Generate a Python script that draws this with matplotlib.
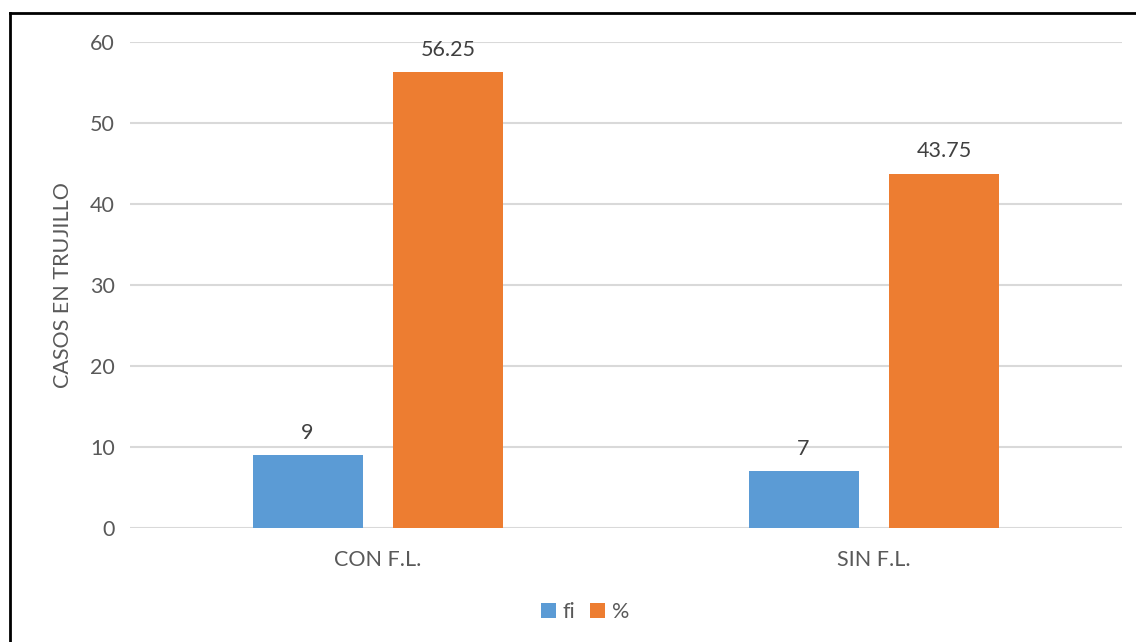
import matplotlib.pyplot as plt
from matplotlib.lines import Line2D
import numpy as np

categories = ["CON F.L.", "SIN F.L."]
fi = [9, 7]
pct = [56.25, 43.75]
labels_fi = ["9", "7"]
labels_pct = ["56.25", "43.75"]

plt.rcParams['font.family'] = ['Lato', 'DejaVu Sans']
gray = '#595959'
fs = 15.5

fig = plt.figure(figsize=(11.36, 6.42), dpi=100)
ax = fig.add_axes([130/1136, 1 - 528/642, 992/1136, 486/642])

x = np.arange(len(categories))
w = 0.222
b1 = ax.bar(x - 0.142, fi, w, color='#5b9bd5', label='fi', zorder=3)
b2 = ax.bar(x + 0.142, pct, w, color='#ed7d31', label='%', zorder=3)

for rect, t in zip(b1, labels_fi):
    ax.text(rect.get_x() + rect.get_width() / 2, rect.get_height() + 1.5, t,
            ha='center', va='bottom', fontsize=fs, color='#404040')
for rect, t in zip(b2, labels_pct):
    ax.text(rect.get_x() + rect.get_width() / 2, rect.get_height() + 1.5, t,
            ha='center', va='bottom', fontsize=fs, color='#404040')

ax.set_xlim(-0.5, 1.5)
ax.set_ylim(0, 60)
ax.set_yticks(range(0, 61, 10))
ax.set_xticks(x)
ax.set_xticklabels(categories)
ax.grid(axis='y', color='#d9d9d9', linewidth=1.5, zorder=0)
for s in ax.spines.values():
    s.set_visible(False)
ax.tick_params(length=0, labelsize=fs, labelcolor=gray)
ax.tick_params(axis='y', pad=11)
ax.tick_params(axis='x', pad=16)
ax.set_ylabel("CASOS EN TRUJILLO", fontsize=fs, color=gray, labelpad=12)

fig.legend(handles=[b1, b2], labels=['fi', '%'], loc='center',
           bbox_to_anchor=(585/1136, 1 - 612/642), ncol=2, frameon=False,
           fontsize=fs, labelcolor=gray, handlelength=0.7, handleheight=0.7,
           handletextpad=0.3, columnspacing=0.7)

# outer frame
fig.add_artist(Line2D([10/1136, 10/1136], [0, 1 - 13/642], color='black', lw=2))
fig.add_artist(Line2D([10/1136, 1], [1 - 13/642, 1 - 13/642], color='black', lw=2))

fig.savefig('out.png', dpi=100)
